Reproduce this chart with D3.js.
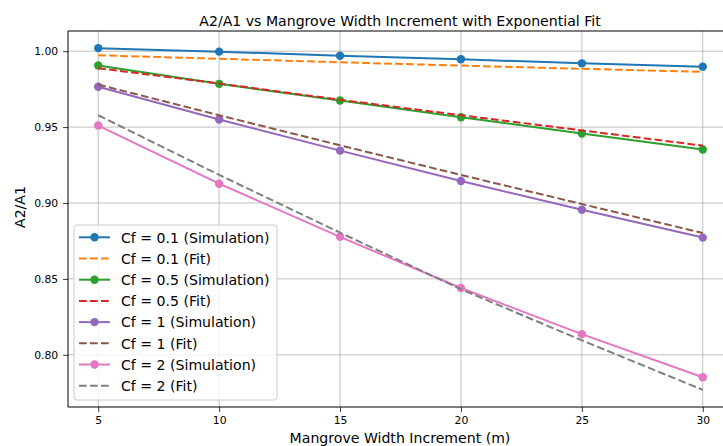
<!DOCTYPE html>
<html><head><meta charset="utf-8">
<script src="https://cdn.jsdelivr.net/npm/d3@7"></script>
<style>body{margin:0;background:#fff}svg{display:block;font-family:"DejaVu Sans",sans-serif}</style>
</head><body><svg id="c" width="723" height="446"></svg>
<script>
const widths = [5, 10, 15, 20, 25, 30];
const xTicks = [5, 10, 15, 20, 25, 30];
const yTicks = [0.80, 0.85, 0.90, 0.95, 1.00];
const cfLabels = ["0.1", "0.5", "1", "2"];
const sim01 = [1.0020, 0.9997, 0.9970, 0.9947, 0.9920, 0.9898];
const fit01 = [0.9973, 0.9950, 0.9927, 0.9905, 0.9884, 0.9864];
const sim05 = [0.9906, 0.9785, 0.9675, 0.9565, 0.9458, 0.9352];
const fit05 = [0.9888, 0.9787, 0.9680, 0.9578, 0.9478, 0.9378];
const sim1 = [0.9766, 0.9550, 0.9345, 0.9145, 0.8955, 0.8772];
const fit1 = [0.9780, 0.9578, 0.9380, 0.9185, 0.8993, 0.8802];
const sim2 = [0.9510, 0.9127, 0.8777, 0.8440, 0.8136, 0.7852];
const fit2 = [0.9578, 0.9185, 0.8805, 0.8432, 0.8095, 0.7769];
const simColors = ["#1f77b4", "#2ca02c", "#9467bd", "#e377c2"];
const fitColors = ["#ff7f0e", "#d62728", "#8c564b", "#7f7f7f"];

const sims = [sim01, sim05, sim1, sim2];
const fits = [fit01, fit05, fit1, fit2];

const svg = d3.select("#c");
const L = 68, T = 31, R = 733, B = 407;
const x = d3.scaleLinear().domain([3.75, 31.25]).range([L, R]);
const y = d3.scaleLinear().domain([0.7656, 1.0133]).range([B, T]);

// grid
svg.append("g").selectAll("line").data(xTicks).join("line")
  .attr("x1", d => x(d)).attr("x2", d => x(d)).attr("y1", T).attr("y2", B)
  .attr("stroke", "#b0b0b0").attr("stroke-width", 0.8);
svg.append("g").selectAll("line").data(yTicks).join("line")
  .attr("x1", L).attr("x2", R).attr("y1", d => y(d)).attr("y2", d => y(d))
  .attr("stroke", "#b0b0b0").attr("stroke-width", 0.8);

// axes
const xa = svg.append("g").attr("transform", `translate(0,${B})`)
  .call(d3.axisBottom(x).tickValues(xTicks).tickSize(4.9).tickPadding(4.9).tickFormat(d3.format("d")));
const ya = svg.append("g").attr("transform", `translate(${L},0)`)
  .call(d3.axisLeft(y).tickValues(yTicks).tickSize(4.9).tickPadding(4.9).tickFormat(d3.format(".2f")));
[xa, ya].forEach(a => {
  a.select(".domain").remove();
  a.selectAll("text").attr("font-size", 10.8).attr("fill", "#000").attr("font-family", "DejaVu Sans");
  a.selectAll("line").attr("stroke", "#000").attr("stroke-width", 0.8);
});
// spines
svg.append("line").attr("x1", L).attr("x2", L).attr("y1", T).attr("y2", B).attr("stroke", "#000").attr("stroke-width", 1);
svg.append("line").attr("x1", L).attr("x2", R).attr("y1", B).attr("y2", B).attr("stroke", "#000").attr("stroke-width", 1);
svg.append("line").attr("x1", L).attr("x2", R).attr("y1", T).attr("y2", T).attr("stroke", "#000").attr("stroke-width", 1);

const line = d3.line().x((d, i) => x(widths[i])).y(d => y(d));
const dash = "7.7,3.3";
const plot = svg.append("g");
for (let k = 0; k < 4; k++) {
  plot.append("path").attr("d", line(sims[k])).attr("fill", "none")
    .attr("stroke", simColors[k]).attr("stroke-width", 2);
  plot.selectAll(null).data(sims[k]).join("circle")
    .attr("cx", (d, i) => x(widths[i])).attr("cy", d => y(d)).attr("r", 4.2).attr("fill", simColors[k]);
  plot.append("path").attr("d", line(fits[k])).attr("fill", "none")
    .attr("stroke", fitColors[k]).attr("stroke-width", 2).attr("stroke-dasharray", dash);
}

// title & labels
svg.append("text").attr("x", 400).attr("y", 25.5).attr("text-anchor", "middle")
  .attr("font-size", 14.1).text("A2/A1 vs Mangrove Width Increment with Exponential Fit");
svg.append("text").attr("x", 400).attr("y", 443).attr("text-anchor", "middle")
  .attr("font-size", 14.1).text("Mangrove Width Increment (m)");
svg.append("text").attr("transform", "translate(25,207) rotate(-90)").attr("text-anchor", "middle")
  .attr("font-size", 14.1).text("A2/A1");

// legend
const lg = svg.append("g");
lg.append("rect").attr("x", 74).attr("y", 225).attr("width", 203).attr("height", 175)
  .attr("rx", 3).attr("fill", "#fff").attr("fill-opacity", 0.8).attr("stroke", "#cccccc").attr("stroke-width", 1);
const entries = [];
for (let k = 0; k < 4; k++) {
  entries.push({label: `Cf = ${cfLabels[k]} (Simulation)`, color: simColors[k], fit: false});
  entries.push({label: `Cf = ${cfLabels[k]} (Fit)`, color: fitColors[k], fit: true});
}
entries.forEach((e, i) => {
  const yy = 237.3 + i * 21.2;
  lg.append("line").attr("x1", 79).attr("x2", 110).attr("y1", yy).attr("y2", yy)
    .attr("stroke", e.color).attr("stroke-width", 2).attr("stroke-dasharray", e.fit ? dash : null);
  if (!e.fit) lg.append("circle").attr("cx", 94.5).attr("cy", yy).attr("r", 4.2).attr("fill", e.color);
  lg.append("text").attr("x", 121).attr("y", yy + 5.2).attr("font-size", 14.1).text(e.label);
});
</script></body></html>
